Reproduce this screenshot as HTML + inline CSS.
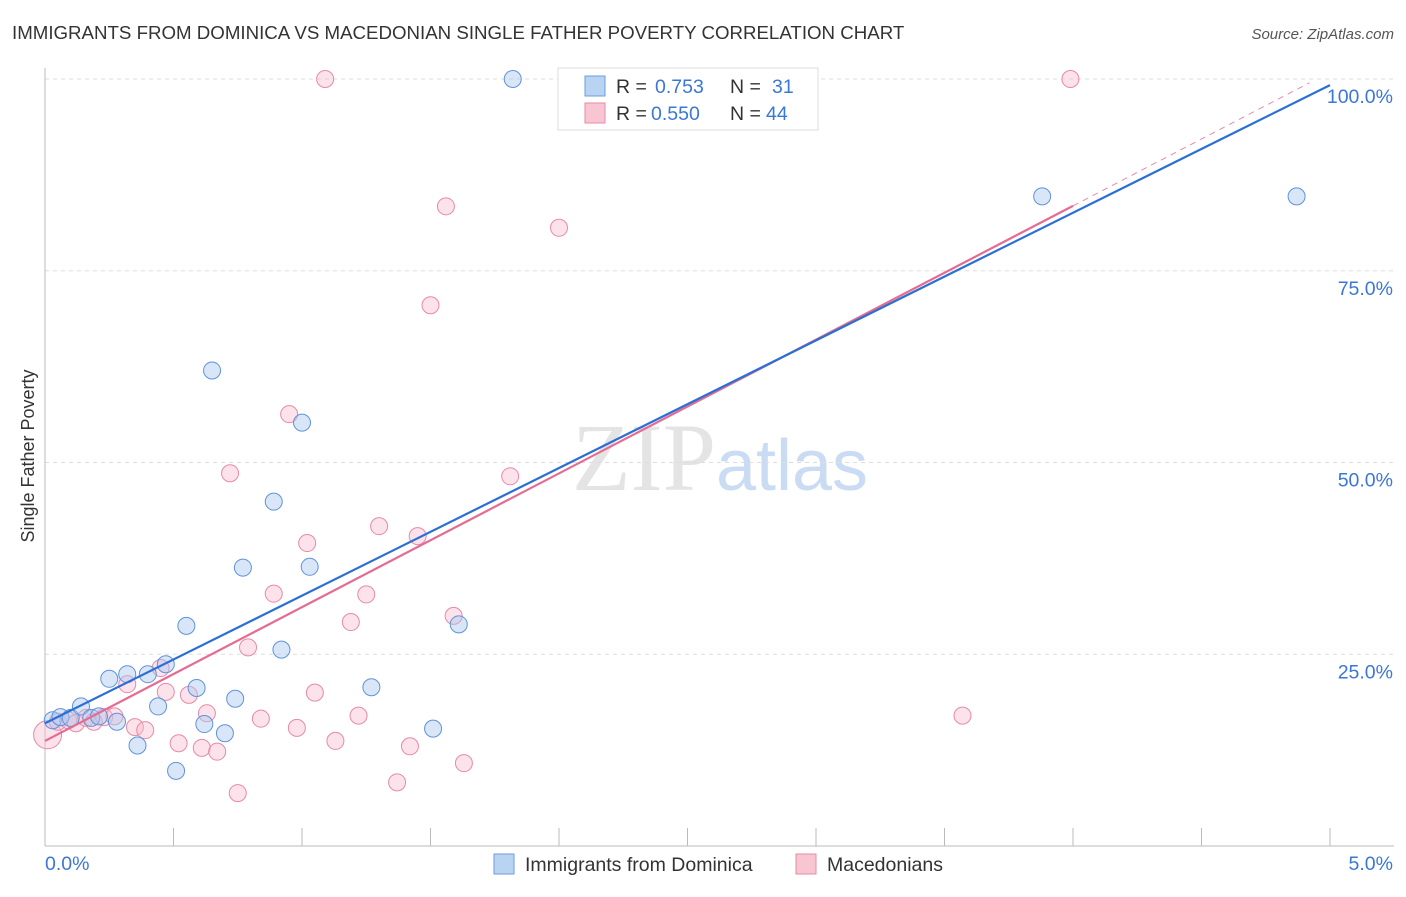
<!DOCTYPE html>
<html><head><meta charset="utf-8"><style>
body{margin:0;background:#fff;font-family:"Liberation Sans",sans-serif;}
</style></head><body>
<svg id="chart" width="1406" height="892" xmlns="http://www.w3.org/2000/svg" style="font-family:'Liberation Sans',sans-serif">
<text x="12" y="39" font-size="18.7" fill="#333">IMMIGRANTS FROM DOMINICA VS MACEDONIAN SINGLE FATHER POVERTY CORRELATION CHART</text>
<text x="1394" y="39" font-size="15" fill="#555" text-anchor="end" font-style="italic">Source: ZipAtlas.com</text>
<text x="720" y="490" font-size="96" text-anchor="middle" fill="#e4e4e4" font-family="Liberation Serif">ZIP<tspan fill="#c9dcf3" font-family="Liberation Sans" font-size="72">atlas</tspan></text>
<text transform="translate(34,456) rotate(-90)" font-size="18" fill="#333" text-anchor="middle">Single Father Poverty</text>
<g id="grid"></g><g id="ticks"></g><g id="pts"></g><g id="lines"></g>
<g>
<rect x="558" y="68" width="260" height="62" fill="#fff" stroke="#ddd"/>
<rect x="585" y="76" width="20" height="20" fill="#b9d3f3" stroke="#6b9ee0"/>
<rect x="585" y="103" width="20" height="20" fill="#f8c5d3" stroke="#e88aa6"/>
<text x="616" y="93" font-size="19.5" fill="#333">R =</text>
<text x="655" y="93" font-size="19.5" fill="#3a77d6">0.753</text>
<text x="730" y="93" font-size="19.5" fill="#333">N =</text>
<text x="772" y="93" font-size="19.5" fill="#3a77d6">31</text>
<text x="616" y="120" font-size="19.5" fill="#333">R =</text>
<text x="651" y="120" font-size="19.5" fill="#3a77d6">0.550</text>
<text x="730" y="120" font-size="19.5" fill="#333">N =</text>
<text x="766" y="120" font-size="19.5" fill="#3a77d6">44</text>
</g>
<g>
<rect x="494" y="854" width="20" height="20" fill="#b9d3f3" stroke="#6b9ee0"/>
<text x="525" y="871" font-size="19.5" fill="#333">Immigrants from Dominica</text>
<rect x="796" y="854" width="20" height="20" fill="#f8c5d3" stroke="#e88aa6"/>
<text x="827" y="871" font-size="19.5" fill="#333">Macedonians</text>
</g>
</svg>
<script>
const yTicks=[25,50,75,100];
const xTickLabels=["0.0%","5.0%"];
const blueX=[0.03,0.06,0.10,0.14,0.18,0.21,0.25,0.28,0.32,0.36,0.40,0.44,0.47,0.51,0.55,0.59,0.62,0.65,0.70,0.74,0.77,0.89,0.92,1.00,1.03,1.27,1.51,1.61,1.82,3.88,4.87];
const blueY=[16.4,16.8,16.7,18.2,16.7,16.9,21.8,16.2,22.4,13.1,22.4,18.2,23.7,9.8,28.7,20.6,15.9,62.0,14.7,19.2,36.3,44.9,25.6,55.2,36.4,20.7,15.3,28.9,100,84.7,84.7];
const pinkX=[0.01,0.05,0.09,0.12,0.16,0.19,0.23,0.27,0.32,0.35,0.39,0.45,0.47,0.52,0.56,0.61,0.63,0.67,0.72,0.75,0.79,0.84,0.89,0.95,0.98,1.02,1.05,1.09,1.13,1.19,1.22,1.25,1.30,1.37,1.42,1.45,1.50,1.56,1.59,1.63,1.81,2.00,3.57,3.99];
const pinkY=[14.5,16.2,16.4,16.0,16.7,16.2,16.8,16.9,21.1,15.5,15.1,23.2,20.1,13.4,19.7,12.8,17.3,12.3,48.6,6.9,25.9,16.6,32.9,56.3,15.4,39.5,20.0,100,13.7,29.2,17.0,32.8,41.7,8.3,13.0,40.4,70.5,83.4,30.0,10.8,48.2,80.6,17.0,100];
const blueFit=[16.0,99.2];   // y at x=0, x=5
const pinkFit=[13.7,100.9];  // y at x=0, x=5
const X=v=>45+v/5*1285, Y=v=>846-v/100*767;
const NS="http://www.w3.org/2000/svg";
function mk(t,a,p){const e=document.createElementNS(NS,t);for(const k in a)e.setAttribute(k,a[k]);p.appendChild(e);return e;}
const grid=document.getElementById('grid'),ticks=document.getElementById('ticks'),pts=document.getElementById('pts'),lines=document.getElementById('lines');
yTicks.forEach(t=>{const l=mk('line',{x1:45,x2:1394,y1:Y(t),y2:Y(t),stroke:'#ddd','stroke-dasharray':'4,4'},grid);


const tx=mk('text',{x:1393,y:Y(t)+24,'font-size':19.5,fill:'#3a77d6','text-anchor':'end'},ticks);tx.textContent=t.toFixed(1)+'%';

});
const ax=mk('line',{x1:45,x2:45,y1:68,y2:846,stroke:'#bbb'},ticks);


const bx=mk('line',{x1:45,x2:1394,y1:846,y2:846,stroke:'#bbb'},ticks);


for(let i=1;i<=10;i++){const t=mk('line',{x1:X(i*0.5),x2:X(i*0.5),y1:828,y2:846,stroke:'#bbb'},ticks);

}
xTickLabels.forEach((s,i)=>{const t=mk('text',{x:i?1393:45,y:870,'font-size':19.5,fill:'#3a77d6','text-anchor':i?'end':'start'},ticks);t.textContent=s;

});
pinkX.forEach((x,i)=>{const c=mk('circle',{cx:X(x),cy:Y(pinkY[i]),r:i==0?14:8.5,fill:'rgba(248,190,208,0.45)',stroke:'#e88aa6','stroke-width':1},pts);

});
blueX.forEach((x,i)=>{const c=mk('circle',{cx:X(x),cy:Y(blueY[i]),r:8.5,fill:'rgba(170,200,240,0.45)',stroke:'#5f93dc','stroke-width':1},pts);

});
const fy=(f,x)=>f[0]+(f[1]-f[0])*x/5;
const pd=mk('line',{x1:X(4),y1:Y(fy(pinkFit,4)),x2:X(4.92),y2:Y(fy(pinkFit,4.92)),stroke:'#e88aa6','stroke-dasharray':'6,5','stroke-width':1},lines);


const pl=mk('line',{x1:X(0),y1:Y(fy(pinkFit,0)),x2:X(4),y2:Y(fy(pinkFit,4)),stroke:'#e56b92','stroke-width':2.2},lines);


const bl=mk('line',{x1:X(0),y1:Y(fy(blueFit,0)),x2:X(5),y2:Y(fy(blueFit,5)),stroke:'#2b6fd6','stroke-width':2.2},lines);


</script>
</body></html>
